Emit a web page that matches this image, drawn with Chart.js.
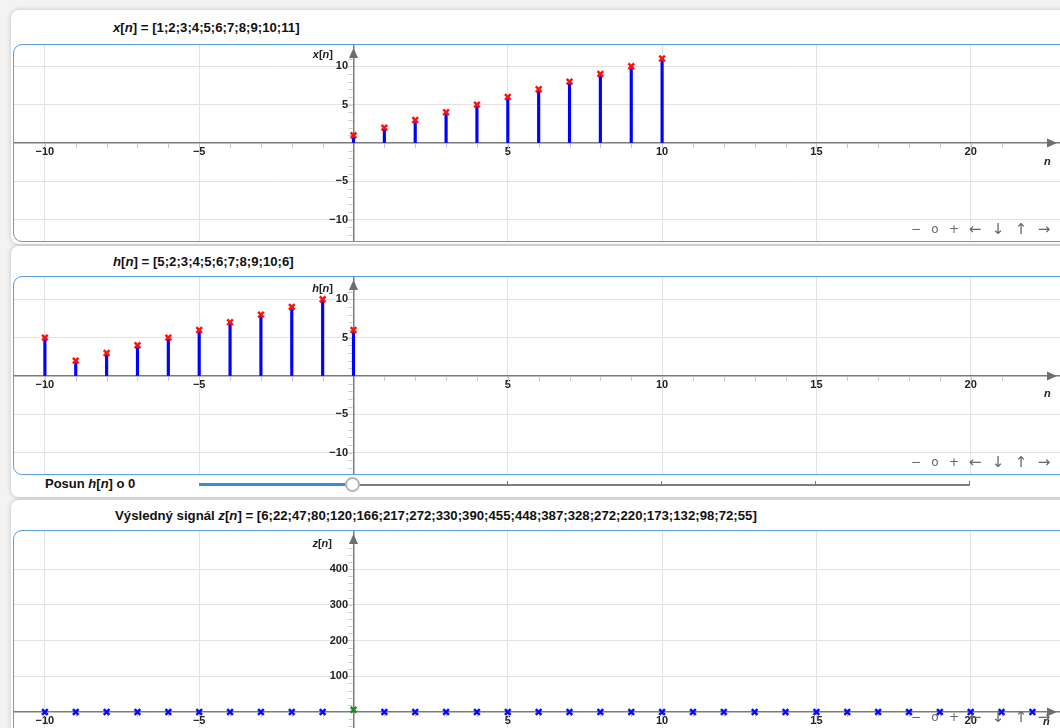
<!DOCTYPE html>
<html><head><meta charset="utf-8">
<script src="https://cdn.jsdelivr.net/npm/chart.js@4.4.1/dist/chart.umd.min.js"></script>
<style>
html,body{margin:0;padding:0;}
body{width:1060px;height:728px;overflow:hidden;background:#f3f3f3;position:relative;font-family:"Liberation Sans",Arial,sans-serif;}
.card{position:absolute;left:11px;width:1080px;background:#fff;border-radius:8px;box-shadow:0 0 5px rgba(0,0,0,0.22);}
.title{position:absolute;left:113px;font-weight:bold;font-size:13.2px;color:#111;white-space:nowrap;line-height:16px;}
.box{position:absolute;left:13px;width:1080px;border:1px solid #5c9fd8;border-radius:9px;overflow:hidden;background:#fff;}
.box canvas{position:absolute;left:0;top:0;}
.lab{position:absolute;font-weight:bold;font-size:11px;color:#222;white-space:nowrap;line-height:12px;}
.ctl{position:absolute;font-size:12px;color:#666;line-height:14px;width:16px;text-align:center;font-family:"DejaVu Sans",sans-serif;}
.ctl.ar{font-size:15px;}
.slab{position:absolute;left:45px;top:476px;font-weight:bold;font-size:13px;color:#111;line-height:16px;white-space:nowrap;}
.trk{position:absolute;height:2px;}
.stick{position:absolute;width:1px;height:4px;background:#777;}
.knob{position:absolute;width:11px;height:11px;border:2px solid #b4b4b4;border-radius:50%;background:#fff;}
</style>
</head><body>
<script>
// ---- data ----
const xN = [0,1,2,3,4,5,6,7,8,9,10];
const xVals = [1,2,3,4,5,6,7,8,9,10,11];
const hN = [-10,-9,-8,-7,-6,-5,-4,-3,-2,-1,0];
const hVals = [5,2,3,4,5,6,7,8,9,10,6];
const zVals = [6,22,47,80,120,166,217,272,330,390,455,448,387,328,272,220,173,132,98,72,55];
const zPendingN = [-10,-9,-8,-7,-6,-5,-4,-3,-2,-1,1,2,3,4,5,6,7,8,9,10,11,12,13,14,15,16,17,18,19,20,21,22];
const zPendingVals = [0,0,0,0,0,0,0,0,0,0,0,0,0,0,0,0,0,0,0,0,0,0,0,0,0,0,0,0,0,0,0,0];
const zCurrentN = [0];
const zCurrentVals = [6];
const shiftValue = 0;
</script>

<div class="card" style="top:10px;height:234px;"></div>
<div class="card" style="top:246px;height:251px;"></div>
<div class="card" style="top:500px;height:260px;"></div>

<div class="title" id="t1" style="top:20px;"></div>
<div class="title" id="t2" style="top:254px;"></div>
<div class="title" id="t3" style="top:508px;left:115px;"></div>

<div class="box" style="top:44px;height:196px;"><canvas id="c1" width="1046" height="196"></canvas></div>
<div class="box" style="top:276px;height:197px;"><canvas id="c2" width="1046" height="197"></canvas></div>
<div class="box" style="top:530px;height:240px;"><canvas id="c3" width="1046" height="197"></canvas></div>

<div class="lab" style="left:293px;width:40px;text-align:right;top:48px;"><i>x</i>[<i>n</i>]</div>
<div class="lab" style="left:293px;width:40px;text-align:right;top:282px;"><i>h</i>[<i>n</i>]</div>
<div class="lab" style="left:292px;width:40px;text-align:right;top:537px;"><i>z</i>[<i>n</i>]</div>
<div class="lab" style="left:1044px;top:155px;"><i>n</i></div>
<div class="lab" style="left:1044px;top:387px;"><i>n</i></div>
<div class="lab" style="left:1043px;top:715px;"><i>n</i></div>

<div id="ctls"></div>

<div class="slab">Posun <i>h</i>[<i>n</i>] o <span id="sv"></span></div>
<div class="trk" style="left:199px;top:483px;width:154px;background:#3a8ddb;height:3px;"></div>
<div class="trk" style="left:353px;top:484px;width:617px;background:#7d7d7d;"></div>
<div class="stick" style="left:507px;top:481px;"></div>
<div class="stick" style="left:661px;top:481px;"></div>
<div class="stick" style="left:815px;top:481px;"></div>
<div class="stick" style="left:969px;top:481px;"></div>
<div class="knob" style="left:345px;top:477px;"></div>

<script>
document.getElementById('t1').innerHTML = '<i>x</i>[<i>n</i>] = [' + xVals.join(';') + ']';
document.getElementById('t2').innerHTML = '<i>h</i>[<i>n</i>] = [' + hVals.join(';') + ']';
document.getElementById('t3').innerHTML = 'Výsledný signál <i>z</i>[<i>n</i>] = [' + zVals.join(';') + ']';
document.getElementById('sv').textContent = String(shiftValue);

// controls overlay
const ctlGlyphs = ['\u2212','o','+','\u2190','\u2193','\u2191','\u2192'];
const ctlX = [916,935,954,975,998,1021,1044];
const ctlY = [229,462,717];
let html = '';
ctlY.forEach(cy => ctlGlyphs.forEach((g,i) => {
  html += '<div class="ctl' + (i > 2 ? ' ar' : '') + '" style="left:'+(ctlX[i]-8)+'px;top:'+(cy-7)+'px;">'+g+'</div>';
}));
document.getElementById('ctls').innerHTML = html;

const FONT = '"Liberation Sans", Arial, sans-serif';
const PX_UNIT = 30.86, ORIGIN = 339.5, CW = 1046;
const X_MIN = -ORIGIN / PX_UNIT, X_MAX = (CW - ORIGIN) / PX_UNIT;

function isMajor(v, major){
  return v !== 0 && Math.abs(v - Math.round(v)) < 1e-9 && Math.abs(Math.round(v)) % major === 0;
}
function fmtX(v){ return isMajor(v, 5) ? (v < 0 ? '\u2212' + (-v) : String(v)) : ''; }
function fmtY(major, maxLab){ return v => (isMajor(v, major) && v <= maxLab) ? (v < 0 ? '\u2212' + (-v) : String(v)) + '\u2002' : ''; }
function gridCol(major, maxLab){ return c => (c.tick && isMajor(c.tick.value, major) && c.tick.value <= maxLab) ? '#e2e2e2' : 'rgba(0,0,0,0)'; }

const axisDecor = {
  id: 'axisDecor',
  beforeDatasetsDraw(chart){
    const {ctx, scales:{x, y}, chartArea:a} = chart;
    const y0 = y.getPixelForValue(0), x0 = x.getPixelForValue(0);
    ctx.save();
    ctx.strokeStyle = '#c9c9c9'; ctx.lineWidth = 1;
    x.ticks.forEach(t => {
      if (t.value === 0 || Math.abs(t.value - Math.round(t.value)) > 1e-9) return;
      const px = Math.round(x.getPixelForValue(t.value)) + 0.5;
      ctx.beginPath(); ctx.moveTo(px, y0 + 1); ctx.lineTo(px, y0 + 5); ctx.stroke();
    });
    y.ticks.forEach(t => {
      if (t.value === 0 || Math.abs(t.value - Math.round(t.value)) > 1e-9) return;
      const py = Math.round(y.getPixelForValue(t.value)) + 0.5;
      if (py < a.top + 12) return;
      ctx.beginPath(); ctx.moveTo(x0 - 1, py); ctx.lineTo(x0 - 5, py); ctx.stroke();
    });
    ctx.fillStyle = '#6e6e6e';
    ctx.beginPath();
    ctx.moveTo(a.right - 3, y0); ctx.lineTo(a.right - 13, y0 - 4.5); ctx.lineTo(a.right - 13, y0 + 4.5); ctx.closePath(); ctx.fill();
    ctx.beginPath();
    ctx.moveTo(x0, a.top + 3); ctx.lineTo(x0 - 4.5, a.top + 13); ctx.lineTo(x0 + 4.5, a.top + 13); ctx.closePath(); ctx.fill();
    ctx.restore();
  }
};

function scalesFor(ymin, ymax, ystep, ymajor, maxLab){
  return {
    x: {
      type: 'linear', min: X_MIN, max: X_MAX, bounds: 'ticks', offset: false, position: {y: 0},
      ticks: {stepSize: 1, includeBounds: true, autoSkip: false, maxRotation: 0, minRotation: 0, padding: 0,
              maxTicksLimit: 1000, color: '#222',
              font: {family: FONT, size: 11, weight: 'bold', lineHeight: '10px'},
              callback: fmtX},
      grid: {offset: false, color: gridCol(5, Infinity), lineWidth: 1, tickLength: 4, tickColor: 'rgba(0,0,0,0)'},
      border: {display: true, color: '#7b7b7b', width: 1.5}
    },
    y: {
      type: 'linear', min: ymin, max: ymax, bounds: 'ticks', position: {x: 0},
      ticks: {stepSize: ystep, includeBounds: true, autoSkip: false, padding: 0, maxTicksLimit: 1000, color: '#222',
              font: {family: FONT, size: 11, weight: 'bold', lineHeight: 0.01},
              callback: fmtY(ymajor, maxLab)},
      grid: {color: gridCol(ymajor, maxLab), lineWidth: 1, tickLength: 5, tickColor: 'rgba(0,0,0,0)'},
      border: {display: true, color: '#7b7b7b', width: 1.5}
    }
  };
}

function pts(ns, vs){ return ns.map((n, i) => ({x: n, y: vs[i]})); }

const baseOptions = {
  responsive: false, animation: false, devicePixelRatio: 1, events: [],
  layout: {padding: 0, autoPadding: false},
  plugins: {legend: {display: false}, tooltip: {enabled: false}}
};

function stemChart(id, ns, vs, ymin, ymax){
  return new Chart(document.getElementById(id), {
    type: 'scatter',
    data: {datasets: [
      {type: 'scatter', data: pts(ns, vs), pointStyle: 'crossRot', pointRadius: 4, pointBorderWidth: 2.5,
       borderColor: '#ff1010', backgroundColor: '#ff1010', order: 0},
      {type: 'bar', data: pts(ns, vs), backgroundColor: '#0000ff', barThickness: 2.5, borderWidth: 0, grouped: false, order: 1}
    ]},
    options: Object.assign({}, baseOptions, {scales: scalesFor(ymin, ymax, 1, 5, 10)}),
    plugins: [axisDecor]
  });
}

stemChart('c1', xN, xVals, -98 / 7.68, 98 / 7.68);
stemChart('c2', hN, hVals, -98 / 7.68, 99 / 7.68);

new Chart(document.getElementById('c3'), {
  type: 'scatter',
  data: {datasets: [
    {data: pts(zCurrentN, zCurrentVals), pointStyle: 'crossRot', pointRadius: 4, pointBorderWidth: 2.5,
     borderColor: '#1e8c1e', backgroundColor: '#1e8c1e', order: 0},
    {data: pts(zPendingN, zPendingVals), pointStyle: 'crossRot', pointRadius: 4, pointBorderWidth: 2.5,
     borderColor: '#0a0aff', backgroundColor: '#0a0aff', order: 1}
  ]},
  options: Object.assign({}, baseOptions, {scales: scalesFor(-16 / 0.3575, 181 / 0.3575, 20, 100, 400)}),
  plugins: [axisDecor]
});
</script>
</body></html>
